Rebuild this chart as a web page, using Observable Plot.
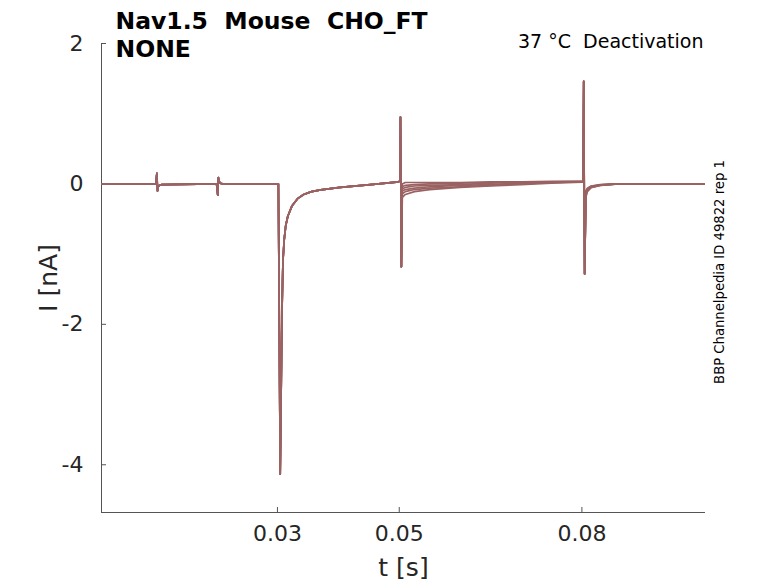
<!DOCTYPE html>
<html>
<head>
<meta charset="utf-8">
<script src="https://cdn.jsdelivr.net/npm/d3@7"></script>
<script src="https://cdn.jsdelivr.net/npm/@observablehq/plot@0.6"></script>
<style>
  html, body { margin: 0; padding: 0; background: #fff; }
  svg text { white-space: pre; }
</style>
</head>
<body>
<div id="chart"></div>
<script>
// ---- data (time in s, current in nA) ----
const baseTimes = [0.0011, 0.0100, 0.01020, 0.01030, 0.01040, 0.01060, 0.0110,
  0.0200, 0.02020, 0.02030, 0.02040, 0.02060, 0.0210,
  0.03015, 0.03030, 0.03045, 0.03060, 0.03075, 0.03090, 0.03110, 0.03135, 0.03170,
  0.03240, 0.03330, 0.03430, 0.03560, 0.03710, 0.04030, 0.04530, 0.04990, 0.05010,
  0.05020, 0.05035];
const baseCurrents = [0, 0, 0.15, -0.10, -0.04, -0.02, -0.01,
  0, -0.16, 0.09, 0.04, 0.01, 0,
  0, -2.0, -4.13, -3.0, -1.8, -1.1, -0.80, -0.60, -0.46,
  -0.31, -0.21, -0.15, -0.11, -0.085, -0.05, -0.01, 0.03, 0.04,
  0.95, -1.18];

const deactTimes = [0.05050, 0.05100, 0.05250, 0.05500, 0.06000, 0.06500, 0.07000, 0.07500, 0.08000, 0.08020];
const sweepCurrents = [
  [ 0.00,  0.02,  0.02,  0.02,  0.02,  0.03,  0.03, 0.035, 0.035, 0.035],
  [-0.04, -0.02, -0.01,  0.00,  0.01,  0.02,  0.03, 0.030, 0.035, 0.035],
  [-0.07, -0.05, -0.03, -0.02, -0.01,  0.01,  0.02, 0.030, 0.030, 0.035],
  [-0.10, -0.08, -0.06, -0.04, -0.02, -0.01,  0.01, 0.020, 0.030, 0.035],
  [-0.14, -0.11, -0.08, -0.06, -0.04, -0.02,  0.00, 0.020, 0.030, 0.035],
  [-0.19, -0.15, -0.11, -0.08, -0.05, -0.03, -0.01, 0.010, 0.025, 0.035]
];
const tailTimes = [0.08030, 0.08045, 0.08065, 0.0809, 0.0815, 0.0830, 0.0860, 0.1003];
const tailCurrents = [
  [1.46, -1.28, -0.10, -0.06, -0.03, -0.01, 0, 0],
  [1.46, -1.28, -0.12, -0.07, -0.035, -0.012, 0, 0],
  [1.46, -1.28, -0.14, -0.08, -0.04, -0.015, 0, 0],
  [1.46, -1.28, -0.15, -0.09, -0.045, -0.017, 0, 0],
  [1.46, -1.28, -0.17, -0.10, -0.05, -0.02, 0, 0],
  [1.46, -1.28, -0.19, -0.11, -0.055, -0.022, 0, 0]
];

const xDomain = [0.0011, 0.1003];
const yDomain = [-4.68, 2.0];
const xTicks = [0.03, 0.05, 0.08];
const yTicks = [2, 0, -2, -4];

const titleLine1 = "Nav1.5  Mouse  CHO_FT";
const titleLine2 = "NONE";
const condition = "37 °C  Deactivation";
const sideNote = "BBP Channelpedia ID 49822 rep 1";
const xLabel = "t [s]";
const yLabel = "I [nA]";

const traceColor = "#9a6262";
const inkColor = "#262626";
const axisColor = "#555555";

// build table
const rows = [];
sweepCurrents.forEach((sw, s) => {
  baseTimes.forEach((t, i) => rows.push({sweep: s, t, I: baseCurrents[i]}));
  deactTimes.forEach((t, i) => rows.push({sweep: s, t, I: sw[i]}));
  tailTimes.forEach((t, i) => rows.push({sweep: s, t, I: tailCurrents[s][i]}));
});

const font = "DejaVu Sans";

const chart = Plot.plot({
  width: 778,
  height: 583,
  marginLeft: 101,
  marginRight: 73,
  marginTop: 43,
  marginBottom: 71,
  style: {fontFamily: font, background: "#fff", color: inkColor},
  x: {domain: xDomain},
  y: {domain: yDomain},
  marks: [
    Plot.ruleX([xDomain[0]], {stroke: axisColor, strokeWidth: 1}),
    Plot.ruleY([yDomain[0]], {stroke: axisColor, strokeWidth: 1}),
    Plot.axisX({ticks: xTicks, tickFormat: d => String(d), tickSize: -5, tickPadding: 18,
      fontSize: 22, label: null, stroke: axisColor, fill: inkColor}),
    Plot.axisY({ticks: yTicks, tickFormat: d => String(d), tickSize: -5, tickPadding: 23,
      fontSize: 22, label: null, stroke: axisColor, fill: inkColor}),
    Plot.line(rows, {x: "t", y: "I", z: "sweep", stroke: traceColor, strokeWidth: 1.7, clip: true}),
    Plot.text([titleLine1], {frameAnchor: "top-left", dx: 14, dy: -15, lineAnchor: "bottom",
      textAnchor: "start", fontSize: 23.5, fontWeight: "bold", fill: "#000"}),
    Plot.text([titleLine2], {frameAnchor: "top-left", dx: 14, dy: 13, lineAnchor: "bottom",
      textAnchor: "start", fontSize: 23.5, fontWeight: "bold", fill: "#000"}),
    Plot.text([condition], {frameAnchor: "top-right", dx: -2, dy: 4, lineAnchor: "bottom",
      textAnchor: "end", fontSize: 19, fill: "#000"}),
    Plot.text([sideNote], {frameAnchor: "right", dx: 18, dy: -6, rotate: -90, lineAnchor: "bottom",
      textAnchor: "middle", fontSize: 13.2, fill: "#000"}),
    Plot.text([yLabel], {frameAnchor: "left", dx: -45, dy: 0, rotate: -90, lineAnchor: "bottom",
      textAnchor: "middle", fontSize: 25, fill: inkColor}),
    Plot.text([xLabel], {frameAnchor: "bottom", dx: 0, dy: 63, lineAnchor: "bottom",
      textAnchor: "middle", fontSize: 25, fill: inkColor})
  ]
});
document.getElementById("chart").appendChild(chart);
</script>
</body>
</html>
